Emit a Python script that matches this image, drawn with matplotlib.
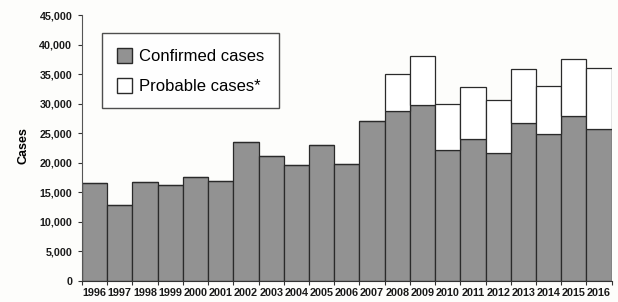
import matplotlib
matplotlib.use("Agg")
import matplotlib.pyplot as plt
import numpy as np
from matplotlib.patches import Patch
from matplotlib.ticker import FuncFormatter, FixedLocator

years = [str(y) for y in range(1996, 2017)]
confirmed = [16500, 12800, 16800, 16300, 17600, 16900, 23600, 21100, 19700, 23100,
             19800, 27100, 28800, 29800, 22200, 24100, 21600, 26700, 24900, 28000, 25700]
probable = [0, 0, 0, 0, 0, 0, 0, 0, 0, 0,
            0, 0, 6200, 8300, 7700, 8700, 9000, 9200, 8100, 9600, 10300]

plt.rcParams['font.family'] = ['Liberation Sans', 'DejaVu Sans']
fig = plt.figure(figsize=(6.18, 3.02), dpi=100)
fig.patch.set_facecolor('#fdfdfb')
ax = fig.add_axes([0.1327, 0.0702, 0.857, 0.8788])
ax.set_facecolor('#fdfdfb')

x = np.arange(len(years))
ax.bar(x, confirmed, width=1.0, color='#929292', edgecolor='#2a2a2a', linewidth=0.9)
ax.bar(x, probable, width=1.0, bottom=confirmed, color='white', edgecolor='#2a2a2a', linewidth=0.9)

ax.set_xlim(-0.5, len(years) - 0.5)
ax.set_ylim(0, 45000)
ax.set_yticks(np.arange(0, 45001, 5000))
ax.yaxis.set_major_formatter(FuncFormatter(lambda v, p: f"{int(v):,}"))
ax.set_xticks(x)
ax.set_xticklabels(years)
ax.xaxis.set_minor_locator(FixedLocator(np.arange(-0.5, len(years), 1.0)))
ax.tick_params(axis='x', which='major', length=0, pad=5, labelsize=7.8)
ax.tick_params(axis='x', which='minor', length=3, width=0.8, color='#333333')
ax.tick_params(axis='y', length=3, width=0.8, labelsize=7.7, color='#333333', pad=4)
for lab in ax.get_xticklabels() + ax.get_yticklabels():
    lab.set_fontweight('bold')
    lab.set_color('#1a1a1a')

for s in ['top', 'right']:
    ax.spines[s].set_visible(False)
ax.spines['left'].set_color('#555555')
ax.spines['bottom'].set_color('#333333')
ax.spines['left'].set_linewidth(0.8)
ax.spines['bottom'].set_linewidth(0.8)

ax.set_ylabel('Cases', fontsize=9, fontweight='bold')
ax.yaxis.set_label_coords(-0.1, 0.51)

handles = [Patch(facecolor='#929292', edgecolor='#2a2a2a', label='Confirmed cases'),
           Patch(facecolor='white', edgecolor='#2a2a2a', label='Probable cases*')]
leg = ax.legend(handles=handles, loc='upper left', bbox_to_anchor=(0.038, 0.932),
                fontsize=12, frameon=True, fancybox=False, handlelength=0.9,
                handleheight=1.0, handletextpad=0.45, borderpad=0.88, labelspacing=0.8,
                borderaxespad=0)
leg.get_frame().set_edgecolor('#222222')
leg.get_frame().set_linewidth(1.0)

fig.savefig('out.png', dpi=100, facecolor=fig.get_facecolor())
